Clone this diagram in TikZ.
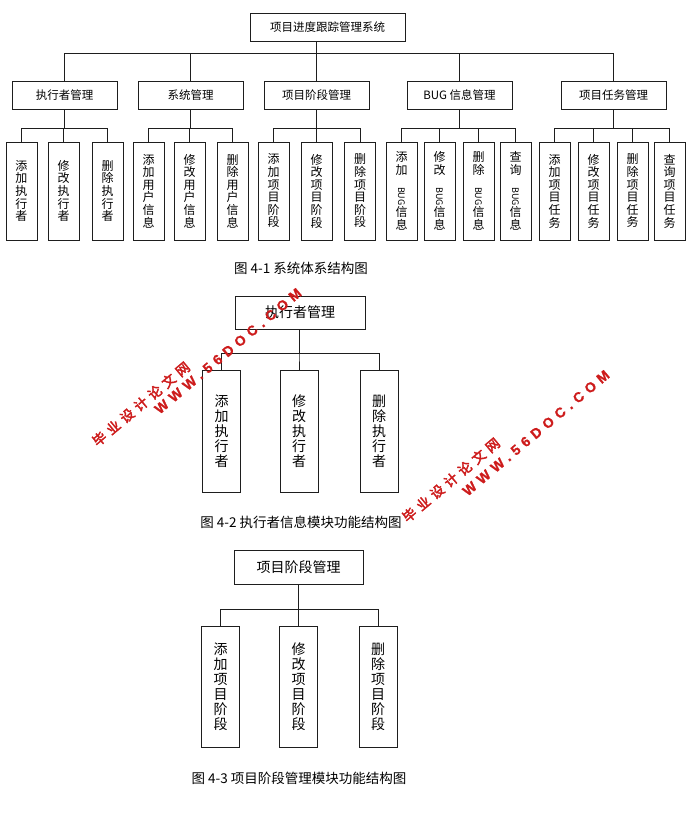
\documentclass[tikz,border=0pt]{standalone}
\usepackage{fontspec}
\setmainfont{Noto Sans CJK SC}
\newfontfamily\wmcjk[LetterSpace=34,FakeBold=3]{Noto Sans CJK SC}
\newfontfamily\wmlat[LetterSpace=36,FakeBold=1]{Liberation Sans}
\usetikzlibrary{positioning}
\definecolor{ln}{RGB}{30,30,30}
\definecolor{wmred}{RGB}{205,28,28}
\tikzset{
  % 模块框
  mod/.style={rectangle, draw=ln, line width=0.8pt, inner sep=0pt,
              minimum width=105pt, minimum height=28pt, font=\fontsize{11.5}{13}\selectfont},
  % 竖排功能框
  fn/.style={rectangle, draw=ln, line width=0.8pt, inner sep=0pt, align=center,
             minimum width=31pt, minimum height=98pt, font=\fontsize{12}{12.6}\selectfont},
  bigfn/.style={font=\fontsize{14}{15}\selectfont, minimum width=38pt, minimum height=122pt},
  bigmod/.style={font=\fontsize{14}{16}\selectfont, minimum width=130pt, minimum height=33pt},
  ed/.style={draw=ln, line width=0.8pt},
  captxt/.style={font=\fontsize{13.5}{15}\selectfont},
  wm/.style={text=wmred, rotate=40, inner sep=0pt}
}
\newcommand{\bugv}{\rotatebox{-90}{\fontsize{9}{9}\selectfont BUG}}

\begin{document}
\begin{tikzpicture}[x=1pt, y=-1pt]
    \useasboundingbox (0,0) rectangle (695,828);

    % --- 图 4-1 系统体系结构 ---
    \node[mod, minimum width=155pt] (sys) at (327.5,27) {项目进度跟踪管理系统};
    \node[mod] (zx) at (64.5,95) {执行者管理};
    \node[mod] (xt) at (190.5,95) {系统管理};
    \node[mod] (jd) at (316.5,95) {项目阶段管理};
    \node[mod] (bug) at (459.5,95) {BUG 信息管理};
    \node[mod] (rw) at (613.5,95) {项目任务管理};
    \foreach \m in {zx,xt,jd,bug,rw}
      \draw[ed] (sys.south -| jd.north) -- ++(0,12) -| (\m.north);

    \node[fn] (zx1) at (21.5,191) {添\\加\\执\\行\\者};
    \node[fn] (zx2) at (63.5,191) {修\\改\\执\\行\\者};
    \node[fn] (zx3) at (107.5,191) {删\\除\\执\\行\\者};
    \node[fn] (xt1) at (148.5,191) {添\\加\\用\\户\\信\\息};
    \node[fn] (xt2) at (189.5,191) {修\\改\\用\\户\\信\\息};
    \node[fn] (xt3) at (232.5,191) {删\\除\\用\\户\\信\\息};
    \node[fn] (jd1) at (273.5,191) {添\\加\\项\\目\\阶\\段};
    \node[fn] (jd2) at (316.5,191) {修\\改\\项\\目\\阶\\段};
    \node[fn] (jd3) at (360,191) {删\\除\\项\\目\\阶\\段};
    \node[fn] (bug1) at (401.5,191) {添\\加\\\bugv\\信\\息};
    \node[fn] (bug2) at (439.5,191) {修\\改\\\bugv\\信\\息};
    \node[fn] (bug3) at (478.5,191) {删\\除\\\bugv\\信\\息};
    \node[fn] (bug4) at (515.5,191) {查\\询\\\bugv\\信\\息};
    \node[fn] (rw1) at (554.5,191) {添\\加\\项\\目\\任\\务};
    \node[fn] (rw2) at (593.5,191) {修\\改\\项\\目\\任\\务};
    \node[fn] (rw3) at (632.5,191) {删\\除\\项\\目\\任\\务};
    \node[fn] (rw4) at (669.5,191) {查\\询\\项\\目\\任\\务};

    \foreach \l in {zx1,zx2,zx3}
      \draw[ed] (zx.south) -- ++(0,19) -| (\l.north);
    \foreach \l in {xt1,xt2,xt3}
      \draw[ed] (xt.south) -- ++(0,19) -| (\l.north);
    \foreach \l in {jd1,jd2,jd3}
      \draw[ed] (jd.south) -- ++(0,19) -| (\l.north);
    \foreach \l in {bug1,bug2,bug3,bug4}
      \draw[ed] (bug.south) -- ++(0,19) -| (\l.north);
    \foreach \l in {rw1,rw2,rw3,rw4}
      \draw[ed] (rw.south) -- ++(0,19) -| (\l.north);

    \node[captxt] (cap1) at (301,268) {图 4-1 系统体系结构图};

    % --- 图 4-2 执行者信息模块 ---
    \node[mod, bigmod] (m0) at (300,312.5) {执行者管理};
    \node[fn, bigfn] (m1) at (221.5,431) {添\\加\\执\\行\\者};
    \node[fn, bigfn] (m2) at (299,431) {修\\改\\执\\行\\者};
    \node[fn, bigfn] (m3) at (379,431) {删\\除\\执\\行\\者};
    \foreach \l in {m1,m2,m3}
      \draw[ed] (m0.south -| m2.north) -- ++(0,24) -| (\l.north);
    \node[captxt] (cap2) at (301,522) {图 4-2 执行者信息模块功能结构图};

    % --- 图 4-3 项目阶段管理模块 ---
    \node[mod, bigmod, minimum width=129pt, minimum height=34pt] (p0) at (298.5,567) {项目阶段管理};
    \node[fn, bigfn, minimum height=121pt] (p1) at (220.5,686.5) {添\\加\\项\\目\\阶\\段};
    \node[fn, bigfn, minimum height=121pt] (p2) at (298.5,686.5) {修\\改\\项\\目\\阶\\段};
    \node[fn, bigfn, minimum height=121pt] (p3) at (378,686.5) {删\\除\\项\\目\\阶\\段};
    \foreach \l in {p1,p2,p3}
      \draw[ed] (p0.south -| p2.north) -- ++(0,25) -| (\l.north);
    \node[captxt] (cap3) at (299,778) {图 4-3 项目阶段管理模块功能结构图};

    % --- 水印 ---
    \node[wm] (wm1a) at (141,404) {\fontsize{13.5}{13.5}\wmcjk 毕业设计论文网};
    \node[wm] (wm1b) at (228,351) {\fontsize{14}{14}\wmlat\bfseries WWW.56DOC.COM};
    \node[wm] (wm2a) at (451,480) {\fontsize{13.5}{13.5}\wmcjk 毕业设计论文网};
    \node[wm] (wm2b) at (536,433) {\fontsize{14}{14}\wmlat\bfseries WWW.56DOC.COM};
\end{tikzpicture}
\end{document}
